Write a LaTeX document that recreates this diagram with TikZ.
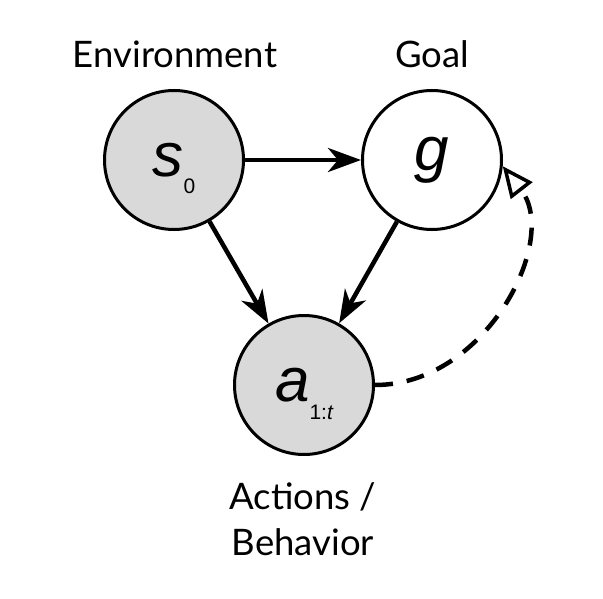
\documentclass[tikz,border=0pt]{standalone}
\usepackage{fontspec}
\setmainfont{Lato}
\newfontfamily\varfont{Liberation Sans}
\usetikzlibrary{arrows.meta}
\newcommand{\nodesub}[2]{\smash{\raisebox{-#1}{\fontsize{21}{21}\selectfont #2}}}

\begin{document}
\begin{tikzpicture}[x=1pt, y=-1pt,
    var/.style={circle, draw, line width=3pt, minimum size=139pt, inner sep=0pt,
      font=\fontsize{62}{62}\selectfont\varfont\itshape},
    obs/.style={var, fill=black!15},
    lbl/.style={font=\fontsize{36.5}{46}\selectfont, align=center},
    link/.style={line width=4.5pt, -{Stealth[length=33pt, width=24pt, inset=10pt]}}]
  \useasboundingbox (0,0) rectangle (603,599);
  \node[obs] (s0) at (174,160) {s\nodesub{17pt}{\upshape 0}};
  \node[var] (g)  at (432,160) {g};
  \node[obs] (a)  at (304,385) {a\nodesub{18pt}{\upshape 1:\itshape t}};
  \node[lbl, anchor=base] (env)  at (175,68) {Environment};
  \node[lbl, anchor=base] (goal) at (432,68) {Goal};
  \node[lbl] (beh) at (303,519) {Actions /\\Behavior};
  \draw[link] (s0) -- (g);
  \draw[link] (s0) -- (a);
  \draw[link] (g) -- (a);
  \draw[line width=4.5pt, dash pattern=on 18pt off 14pt,
    -{Triangle[open, line width=3.5pt, length=31pt, width=27pt]}]
    (a.east) .. controls (486,385) and (560,240) .. (g.-5);
\end{tikzpicture}
\end{document}
